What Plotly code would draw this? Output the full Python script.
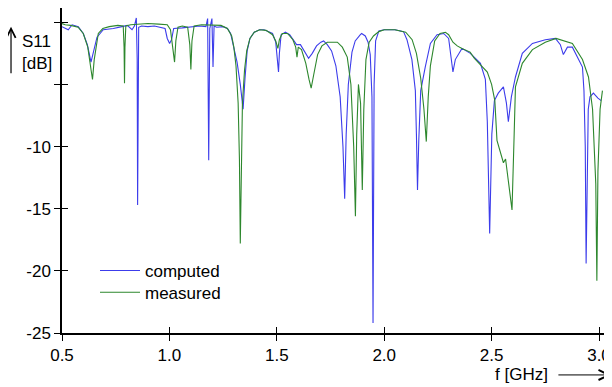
import plotly.graph_objects as go

# ---- data ----
f_computed = [0.500, 0.529, 0.547, 0.576, 0.599, 0.618, 0.635, 0.646, 0.663, 0.692, 0.739, 0.779, 0.804,
              0.826, 0.837, 0.846, 0.850, 0.852, 0.854, 0.857, 0.870, 0.900, 0.930, 0.960, 0.980, 0.990,
              1.001, 1.010, 1.020, 1.060, 1.100, 1.140, 1.170, 1.178, 1.183, 1.188, 1.198, 1.203, 1.208,
              1.220, 1.250, 1.270, 1.285, 1.300, 1.315, 1.330, 1.343, 1.352, 1.362, 1.375, 1.395, 1.420,
              1.440, 1.460, 1.480, 1.495, 1.504, 1.508, 1.512, 1.520, 1.540, 1.560, 1.580, 1.592, 1.610,
              1.630, 1.648, 1.665, 1.685, 1.705, 1.718, 1.735, 1.755, 1.775, 1.795, 1.808, 1.816, 1.823,
              1.833, 1.850, 1.865, 1.889, 1.895, 1.912, 1.925, 1.935, 1.943, 1.948, 1.953, 1.960, 1.975,
              2.000, 2.050, 2.090, 2.106, 2.129, 2.145, 2.150, 2.155, 2.161, 2.170, 2.191, 2.215, 2.246,
              2.277, 2.300, 2.320, 2.331, 2.362, 2.401, 2.448, 2.471, 2.480, 2.491, 2.501, 2.513, 2.531,
              2.555, 2.569, 2.578, 2.592, 2.611, 2.643, 2.690, 2.750, 2.797, 2.820, 2.834, 2.853, 2.876,
              2.923, 2.930, 2.936, 2.940, 2.944, 2.950, 2.958, 2.974, 2.995, 3.010]
s11_computed = [-0.35, -0.6, -0.2, -0.35, -0.9, -1.8, -3.2, -2.3, -1.2, -0.6, -0.5, -0.35, -0.25,
                -0.6, -0.3, 0.35, -3.0, -14.7, -3.0, -0.4, -0.3, -0.35, -0.3, -0.4, -0.5, -1.3,
                -1.7, -1.4, -0.5, -0.45, -0.35, -0.3, -0.35, 0.3, -11.1, -0.5, 0.3, -3.6, -0.3,
                -0.4, -0.35, -0.5, -0.9, -2.0, -3.2, -5.0, -7.0, -4.5, -2.3, -1.3, -0.8, -0.6,
                -0.6, -0.75, -0.9, -1.6, -3.0, -4.0, -2.5, -1.0, -0.8, -1.0, -1.5, -1.8, -1.8,
                -2.4, -2.9, -2.5, -1.9, -1.6, -1.5, -1.8, -2.3, -3.5, -6.0, -10.0, -14.2, -9.0,
                -5.0, -2.4, -1.5, -1.0, -0.9, -1.1, -1.6, -2.6, -6.0, -24.2, -5.0, -1.5, -0.7,
                -0.6, -0.6, -0.75, -1.4, -3.0, -5.5, -9.0, -13.5, -9.5, -5.5, -3.6, -1.7, -1.0,
                -0.9, -1.3, -4.0, -3.0, -2.1, -2.5, -3.3, -4.6, -8.0, -17.0, -9.0, -6.3, -5.7,
                -5.2, -6.5, -8.0, -6.0, -4.4, -2.5, -1.7, -1.4, -1.3, -1.8, -2.6, -2.0, -2.0,
                -3.6, -5.5, -10.0, -19.4, -12.0, -7.0, -6.0, -5.7, -6.1, -6.3]

f_measured = [0.500, 0.515, 0.540, 0.575, 0.599, 0.620, 0.635, 0.642, 0.650, 0.669, 0.690, 0.720, 0.760,
              0.785, 0.789, 0.791, 0.793, 0.797, 0.820, 0.850, 0.900, 0.950, 0.990, 1.005, 1.015, 1.024,
              1.030, 1.040, 1.060, 1.085, 1.095, 1.100, 1.105, 1.115, 1.150, 1.200, 1.240, 1.270, 1.290,
              1.300, 1.310, 1.320, 1.326, 1.330, 1.334, 1.340, 1.350, 1.360, 1.375, 1.395, 1.420, 1.450,
              1.480, 1.495, 1.505, 1.512, 1.525, 1.550, 1.575, 1.588, 1.594, 1.600, 1.615, 1.635, 1.650,
              1.660, 1.672, 1.690, 1.710, 1.735, 1.763, 1.782, 1.805, 1.828, 1.845, 1.858, 1.866, 1.872,
              1.880, 1.890, 1.898, 1.905, 1.915, 1.930, 1.950, 1.975, 2.000, 2.050, 2.100, 2.130, 2.150,
              2.170, 2.185, 2.196, 2.205, 2.215, 2.235, 2.260, 2.285, 2.300, 2.320, 2.340, 2.362, 2.400,
              2.420, 2.448, 2.480, 2.500, 2.515, 2.525, 2.555, 2.565, 2.575, 2.595, 2.605, 2.611, 2.643,
              2.690, 2.750, 2.800, 2.876, 2.923, 2.951, 2.970, 2.985, 2.990, 2.995, 3.005, 3.016]
s11_measured = [-0.1, -0.2, -0.25, -0.4, -0.9, -2.0, -3.8, -4.6, -3.0, -0.9, -0.5, -0.35, -0.25,
                -0.3, -2.0, -4.9, -2.0, -0.3, -0.2, -0.15, -0.1, -0.15, -0.2, -0.6, -1.8, -3.2,
                -1.5, -0.4, -0.3, -0.4, -1.8, -3.8, -1.5, -0.3, -0.2, -0.2, -0.25, -0.5, -1.1,
                -2.0, -3.5, -6.5, -11.0, -17.8, -11.0, -6.5, -3.8, -2.3, -1.3, -0.8, -0.6, -0.65,
                -1.0, -1.5, -2.1, -1.4, -0.9, -0.9, -1.4, -2.0, -2.8, -2.0, -2.2, -3.3, -4.6,
                -5.3, -4.2, -2.6, -1.9, -1.6, -1.6, -1.6, -2.0, -2.8, -5.0, -10.0, -15.6, -9.0,
                -5.0, -6.5, -13.5, -7.0, -3.0, -1.6, -1.1, -0.75, -0.6, -0.6, -0.8, -1.4, -2.5,
                -4.5, -7.0, -9.6, -6.0, -3.5, -1.5, -0.9, -0.8, -1.0, -1.6, -1.9, -2.1, -2.4,
                -2.9, -3.4, -4.0, -5.0, -6.3, -9.5, -11.3, -11.0, -12.5, -15.1, -9.0, -5.2, -3.3,
                -2.2, -1.6, -1.3, -1.7, -3.0, -4.4, -7.0, -13.0, -20.8, -12.0, -7.0, -5.5]

x_tickvals = [0.5, 1.0, 1.5, 2.0, 2.5, 3.0]
x_ticktext = ["0.5", "1.0", "1.5", "2.0", "2.5", "3.0"]
y_tickvals = [-25, -20, -15, -10, -5, 0]
y_ticktext = ["-25", "-20", "-15", "-10", "", ""]

FONT = "Liberation Sans, Arial, sans-serif"
X_RANGE = [0.5, 3.0605]
Y_RANGE = [-25, 1.15]

fig = go.Figure()
fig.add_trace(go.Scatter(x=f_computed, y=s11_computed, mode="lines", name="computed",
                         line=dict(color="rgb(60,60,235)", width=1.1), legend="legend"))
fig.add_trace(go.Scatter(x=f_measured, y=s11_measured, mode="lines", name="measured",
                         line=dict(color="rgb(45,135,45)", width=1.1), legend="legend2"))
# empty trace to host the overlay axes (inside halves of crossing ticks)
fig.add_trace(go.Scatter(x=[], y=[], xaxis="x2", yaxis="y2", showlegend=False, hoverinfo="skip"))

axis_common = dict(showgrid=False, zeroline=False, tickfont=dict(family=FONT, size=17, color="black"),
                   tickcolor="black", tickwidth=1.3, ticklen=6)
legend_common = dict(xanchor="left", yanchor="middle", bgcolor="rgba(0,0,0,0)", itemwidth=40,
                     font=dict(family=FONT, size=17, color="black"))
# page body has an 8px margin: figure is sized/margined so the plot area lands where the reference has it
fig.update_layout(
    width=604, height=379,
    margin=dict(l=54, r=0, t=0, b=54),
    paper_bgcolor="white", plot_bgcolor="white",
    font=dict(family=FONT, size=17, color="black"),
    xaxis=dict(range=X_RANGE, tickvals=x_tickvals, ticktext=x_ticktext, ticks="outside",
               showline=True, linecolor="black", linewidth=1.5, **axis_common),
    yaxis=dict(range=Y_RANGE, tickvals=y_tickvals, ticktext=y_ticktext, ticks="outside",
               showline=True, linecolor="black", linewidth=1.5, **axis_common),
    xaxis2=dict(range=X_RANGE, tickvals=x_tickvals, ticks="inside", showticklabels=False,
                overlaying="x", anchor="y2", showline=False, **axis_common),
    yaxis2=dict(range=Y_RANGE, tickvals=y_tickvals, ticks="inside", showticklabels=False,
                overlaying="y", anchor="x2", showline=False, **axis_common),
    legend=dict(x=0.060, y=0.191, **legend_common),
    legend2=dict(x=0.060, y=0.124, **legend_common),
    showlegend=True,
)

ann = [
    dict(text="S11", x=-0.0455, y=0.896, xref="paper", yref="paper", showarrow=False,
         xanchor="center", yanchor="middle"),
    dict(text="[dB]", x=-0.0455, y=0.830, xref="paper", yref="paper", showarrow=False,
         xanchor="center", yanchor="middle"),
    dict(text="", x=-0.0927, y=0.9425, xref="paper", yref="paper", showarrow=True,
         ax=0, ay=48, arrowhead=5, arrowsize=1.5, arrowwidth=1.2, arrowcolor="black"),
    dict(text="f [GHz]", x=0.836, y=-0.129, xref="paper", yref="paper", showarrow=False,
         xanchor="center", yanchor="middle"),
    dict(text="", x=0.998, y=-0.129, xref="paper", yref="paper", showarrow=True,
         ax=-54, ay=0, arrowhead=5, arrowsize=2, arrowwidth=1, arrowcolor="black"),
]
fig.update_layout(annotations=ann)

fig.write_html("out.html")
